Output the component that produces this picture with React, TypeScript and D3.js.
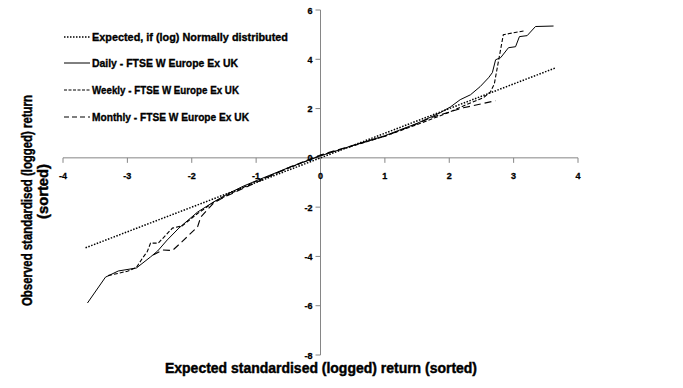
import React from "react";
import * as d3 from "d3";

const normalEnds: number[] = [-3.65, 3.65];

const dailyX = [-3.62, -3.34, -3.14, -2.86, -2.64, -2.53, -2.38, -2.2, -1.91, -1.66, -1.44, -1.2, -1.0, -0.5, 0, 0.5, 1.0, 1.5, 1.86, 2.02, 2.17, 2.33, 2.48, 2.61, 2.67, 2.72, 2.8, 2.92, 3.03, 3.09, 3.21, 3.34, 3.62];
const dailyY = [-5.89, -4.84, -4.59, -4.47, -4.02, -3.78, -3.33, -2.85, -2.2, -1.79, -1.46, -1.15, -0.93, -0.4, 0.08, 0.5, 0.9, 1.4, 1.83, 2.07, 2.36, 2.56, 2.89, 3.25, 3.46, 3.98, 4.07, 4.47, 4.51, 4.92, 4.96, 5.33, 5.35];

const weeklyX = [-3.3, -3.0, -2.86, -2.76, -2.69, -2.64, -2.52, -2.3, -2.15, -1.91, -1.66, -1.4, -1.0, -0.5, 0, 0.5, 1.0, 1.5, 2.0, 2.3, 2.53, 2.64, 2.7, 2.76, 2.84, 3.18];
const weeklyY = [-4.78, -4.6, -4.45, -4.05, -3.8, -3.46, -3.46, -2.85, -2.76, -2.26, -1.8, -1.45, -0.95, -0.42, 0.1, 0.48, 0.88, 1.35, 1.85, 2.2, 2.44, 2.68, 3.0, 3.86, 5.0, 5.16];

const monthlyX = [-2.6, -2.45, -2.3, -2.15, -2.05, -1.91, -1.86, -1.66, -1.5, -1.0, -0.5, 0, 0.5, 1.0, 1.5, 1.71, 2.22, 2.72];
const monthlyY = [-3.94, -3.74, -3.76, -3.4, -3.15, -2.8, -2.4, -1.83, -1.6, -1.0, -0.4, 0.12, 0.5, 0.88, 1.38, 1.63, 2.03, 2.32];

const xTicks = [-4, -3, -2, -1, 0, 1, 2, 3, 4];
const yTicks = [6, 4, 2, 0, -2, -4, -6, -8];

const legendLabels = [
  "Expected, if (log) Normally distributed",
  "Daily - FTSE W Europe Ex UK",
  "Weekly - FTSE W Europe Ex UK",
  "Monthly - FTSE W Europe Ex UK",
];
// text widths as measured on the original (Tahoma bold is narrower than what we have)
const legendWidths = [196, 146, 147, 157];

const font = "'Liberation Sans', Arial, sans-serif";
const axisGrey = "#868686";

export default function App() {
  const width = 683;
  const height = 388;

  const x = d3.scaleLinear().domain([-4, 4]).range([63, 578]);
  const y = d3.scaleLinear().domain([-8, 6]).range([355, 10]);

  const line = d3
    .line<[number, number]>()
    .x((d) => x(d[0]))
    .y((d) => y(d[1]));

  const zip = (xs: number[], ys: number[]) =>
    xs.map((v, i) => [v, ys[i]] as [number, number]);

  const series = [
    { pts: normalEnds.map((v) => [v, v] as [number, number]), dash: "1.5 1.5", w: 1.5 },
    { pts: zip(dailyX, dailyY), dash: "none", w: 1 },
    { pts: zip(weeklyX, weeklyY), dash: "4 2", w: 1.1 },
    { pts: zip(monthlyX, monthlyY), dash: "7 4", w: 1.1 },
  ];

  const legendY = [37, 63, 90, 117];

  // a hairline stroke on the labels to get closer to the heavy Tahoma bold
  const heavy = (w: number) => ({ stroke: "#000", strokeWidth: w });

  return (
    <svg
      width={width}
      height={height}
      style={{ position: "absolute", left: 0, top: 0, background: "#fff" }}
      fontFamily={font}
    >
      {/* axes */}
      <line x1={x(-4)} x2={x(4)} y1={y(0)} y2={y(0)} stroke={axisGrey} />
      {xTicks.map((t) => (
        <line key={"xt" + t} x1={x(t)} x2={x(t)} y1={y(0)} y2={y(0) + 5} stroke={axisGrey} />
      ))}
      <line x1={x(0)} x2={x(0)} y1={y(6)} y2={y(-8)} stroke={axisGrey} />
      {yTicks.map((t) => (
        <line key={"yt" + t} x1={x(0) - 5} x2={x(0)} y1={y(t)} y2={y(t)} stroke={axisGrey} />
      ))}

      {xTicks.map((t) => (
        <text key={"xl" + t} x={x(t)} y={y(0) + 21} fontSize={9} fontWeight="bold" textAnchor="middle" {...heavy(0.3)}>
          {String(t)}
        </text>
      ))}
      {yTicks.map((t) => (
        <text key={"yl" + t} x={x(0) - 8} y={y(t) + 3.5} fontSize={9} fontWeight="bold" textAnchor="end" {...heavy(0.3)}>
          {String(t)}
        </text>
      ))}

      {/* series */}
      {series.map((s, i) => (
        <path
          key={"s" + i}
          d={line(s.pts) || ""}
          fill="none"
          stroke="#000"
          strokeWidth={s.w}
          strokeDasharray={s.dash}
        />
      ))}

      {/* legend */}
      {legendLabels.map((lab, i) => (
        <g key={"lg" + i}>
          <line
            x1={64}
            x2={90}
            y1={legendY[i]}
            y2={legendY[i]}
            stroke="#000"
            strokeWidth={series[i].w}
            strokeDasharray={i === 3 ? "5 3" : i === 2 ? "3 1.5" : series[i].dash}
          />
          <text
            x={92}
            y={legendY[i] + 4}
            fontSize={11}
            fontWeight="bold"
            textLength={legendWidths[i]}
            lengthAdjust="spacingAndGlyphs"
            {...heavy(0.35)}
          >
            {lab}
          </text>
        </g>
      ))}

      {/* axis titles */}
      <text
        x={165}
        y={373}
        fontSize={15}
        fontWeight="bold"
        textLength={312}
        lengthAdjust="spacingAndGlyphs"
        {...heavy(0.45)}
      >
        Expected standardised (logged) return (sorted)
      </text>
      <text
        transform="translate(32,306) rotate(-90)"
        fontSize={15}
        fontWeight="bold"
        textLength={211}
        lengthAdjust="spacingAndGlyphs"
        {...heavy(0.45)}
      >
        Observed standardised (logged) return
      </text>
      <text
        transform="translate(48,219) rotate(-90)"
        fontSize={15}
        fontWeight="bold"
        textLength={55}
        lengthAdjust="spacingAndGlyphs"
        {...heavy(0.45)}
      >
        (sorted)
      </text>
    </svg>
  );
}
